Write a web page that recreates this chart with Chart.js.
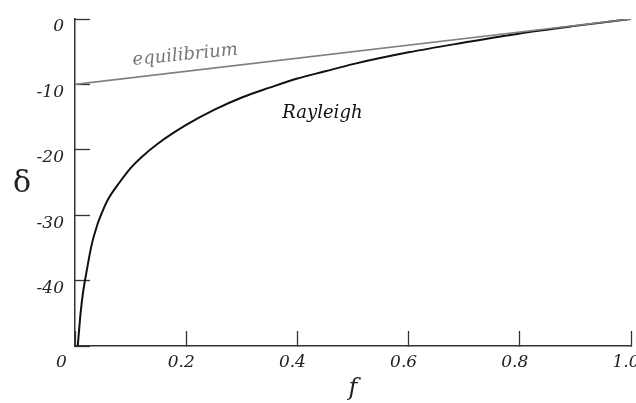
<!DOCTYPE html>
<html>
<head>
<meta charset="utf-8">
<script src="https://cdn.jsdelivr.net/npm/chart.js@4/dist/chart.umd.min.js"></script>
<style>
  html, body { margin: 0; padding: 0; background: #ffffff; }
  #wrap { width: 636px; height: 403px; }
</style>
</head>
<body>
<div id="wrap"><canvas id="c" width="636" height="403"></canvas></div>
<script>
// ---- data ----
const rayleighF     = [0.005, 0.01, 0.015, 0.02, 0.03, 0.04, 0.05, 0.06, 0.08, 0.1, 0.12, 0.15, 0.2, 0.25, 0.3, 0.35, 0.4, 0.45, 0.5, 0.6, 0.7, 0.8, 0.9, 1.0];
const rayleighDelta = [-50, -45, -41.5, -39, -34.5, -31.5, -29.3, -27.5, -25, -22.8, -21.1, -19, -16.2, -13.9, -12, -10.5, -9.1, -8, -6.9, -5.1, -3.6, -2.2, -1.05, 0];
const equilibriumF     = [0, 1];
const equilibriumDelta = [-10, 0];
const xTickValues = [0, 0.2, 0.4, 0.6, 0.8, 1.0];
const yTickValues = [-50, -40, -30, -20, -10, 0];
const xTitle = 'f';
const yTitle = 'δ';
const labelEquilibrium = 'equilibrium';
const labelRayleigh = 'Rayleigh';

const toPts = (xs, ys) => xs.map((x, i) => ({x: x, y: ys[i]}));

const FAM = '"DejaVu Serif", "Liberation Serif", serif';
const serifItalic = (size) => ({family: FAM, size: size, style: 'italic'});

const textPlugin = {
  id: 'texts',
  afterDraw(chart) {
    const {ctx, chartArea, scales} = chart;
    const xs = scales.x, ys = scales.y;
    ctx.save();
    // y-axis symbol, upright
    ctx.font = '30px ' + FAM;
    ctx.fillStyle = '#222';
    ctx.textAlign = 'center';
    ctx.textBaseline = 'middle';
    ctx.fillText(yTitle, chartArea.left - 53, (chartArea.top + chartArea.bottom) / 2 + 2);

    // equilibrium label, along the line
    const x0 = xs.getPixelForValue(equilibriumF[0]), y0 = ys.getPixelForValue(equilibriumDelta[0]);
    const x1 = xs.getPixelForValue(equilibriumF[1]), y1 = ys.getPixelForValue(equilibriumDelta[1]);
    const ang = Math.atan2(y1 - y0, x1 - x0) * 0.85;
    ctx.save();
    ctx.translate(xs.getPixelForValue(0.199), ys.getPixelForValue(-6.25));
    ctx.rotate(ang);
    ctx.font = 'italic 18px ' + FAM;
    ctx.fillStyle = '#777';
    ctx.textAlign = 'center';
    ctx.textBaseline = 'alphabetic';
    ctx.fillText(labelEquilibrium, 0, 0);
    ctx.restore();

    // Rayleigh label
    ctx.font = 'italic 18px ' + FAM;
    ctx.fillStyle = '#111';
    ctx.textAlign = 'center';
    ctx.textBaseline = 'alphabetic';
    ctx.fillText(labelRayleigh, xs.getPixelForValue(0.445), ys.getPixelForValue(-15.1));
    ctx.restore();
  }
};

new Chart(document.getElementById('c'), {
  type: 'scatter',
  data: {
    datasets: [
      {
        label: 'equilibrium',
        data: toPts(equilibriumF, equilibriumDelta),
        showLine: true,
        borderColor: '#808080',
        borderWidth: 1.6,
        pointRadius: 0,
        fill: false
      },
      {
        label: 'Rayleigh',
        data: toPts(rayleighF, rayleighDelta),
        showLine: true,
        borderColor: '#111111',
        borderWidth: 2,
        pointRadius: 0,
        cubicInterpolationMode: 'monotone',
        fill: false
      }
    ]
  },
  options: {
    responsive: false,
    animation: false,
    devicePixelRatio: 1,
    layout: { padding: { left: 0, top: 19, right: 5, bottom: 0 } },
    plugins: { legend: { display: false }, tooltip: { enabled: false } },
    scales: {
      x: {
        type: 'linear',
        min: 0, max: 1,
        afterBuildTicks: (s) => { s.ticks = xTickValues.map(v => ({value: v})); },
        afterFit: (s) => { s.height = 57; s.paddingLeft = 0; s.paddingRight = 0; },
        border: { display: true, color: '#333', width: 1.5 },
        grid: { drawOnChartArea: false, drawTicks: true, tickLength: -15, color: '#333', tickWidth: 1.3 },
        ticks: {
          padding: 21,
          labelOffset: -5,
          maxRotation: 0,
          autoSkip: false,
          color: '#222',
          font: serifItalic(17),
          callback: (v) => (v === 0 ? '0\u2002\u2002' : Number(v).toFixed(1))
        },
        title: {
          display: true,
          text: xTitle,
          color: '#222',
          font: serifItalic(24),
          padding: { top: 0, bottom: 0 }
        }
      },
      y: {
        type: 'linear',
        min: -50, max: 0,
        afterBuildTicks: (s) => { s.ticks = yTickValues.map(v => ({value: v})); },
        afterFit: (s) => { s.width = 75; s.paddingTop = 0; s.paddingBottom = 0; },
        border: { display: true, color: '#333', width: 1.5 },
        grid: { drawOnChartArea: false, drawTicks: true, tickLength: -15, color: '#333', tickWidth: 1.3 },
        ticks: {
          padding: 26,
          labelOffset: 8,
          autoSkip: false,
          color: '#222',
          font: serifItalic(17),
          callback: (v) => (v === -50 ? '' : String(v))
        }
      }
    }
  },
  plugins: [textPlugin]
});
</script>
</body>
</html>
